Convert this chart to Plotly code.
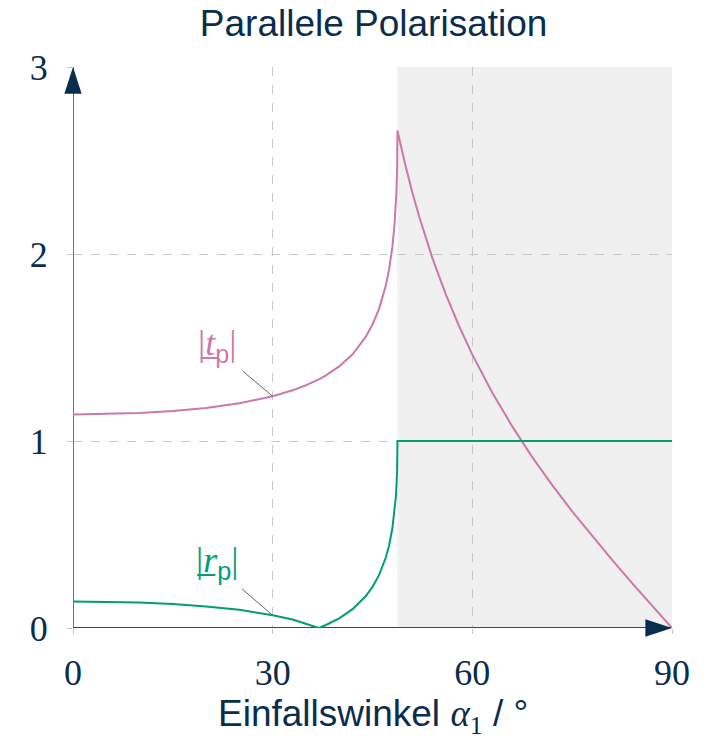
import plotly.graph_objects as go

# ---------------- data ----------------
angles = [0, 5, 10, 15, 20, 25, 30, 33, 35, 36.94, 38, 40, 42, 44, 45, 46, 47,
          47.5, 48, 48.3, 48.5, 48.6, 48.7, 48.75, 49, 49.5, 50, 51, 52, 54, 56,
          58, 60, 63, 66, 69, 72, 75, 78, 81, 84, 87, 90]
t_p = [1.142, 1.144, 1.150, 1.160, 1.177, 1.202, 1.239, 1.271, 1.298, 1.330,
       1.351, 1.399, 1.464, 1.558, 1.623, 1.708, 1.831, 1.919, 2.043, 2.153,
       2.260, 2.338, 2.459, 2.660, 2.620, 2.541, 2.467, 2.328, 2.202, 1.978,
       1.785, 1.615, 1.462, 1.258, 1.078, 0.914, 0.764, 0.624, 0.491, 0.364,
       0.240, 0.120, 0.0]
r_p = [0.142, 0.140, 0.136, 0.128, 0.115, 0.097, 0.068, 0.045, 0.024, 0.0,
       0.016, 0.052, 0.101, 0.171, 0.220, 0.284, 0.377, 0.443, 0.536, 0.619,
       0.699, 0.758, 0.849, 1.0, 1.0, 1.0, 1.0, 1.0, 1.0, 1.0, 1.0, 1.0, 1.0,
       1.0, 1.0, 1.0, 1.0, 1.0, 1.0, 1.0, 1.0, 1.0, 1.0]
critical_angle = 48.75
x_ticks = [0, 30, 60, 90]
y_ticks = [0, 1, 2, 3]
x_range = [0, 90]
y_range = [0, 3]

# ---------------- style ----------------
NAVY = "#0b2d4d"
PINK = "#cc79a7"
GREEN = "#009e73"
GRID = "#c8c8c8"
SERIF = "Liberation Serif"
SANS = "Liberation Sans"

fig = go.Figure()

# shaded region of total internal reflection
fig.add_shape(type="rect", xref="x", yref="y", x0=critical_angle, x1=x_range[1],
              y0=y_range[0], y1=y_range[1], fillcolor="#f0f0f0", line_width=0,
              layer="below")

# axis lines (drawn as traces so they sit under the arrow heads)
fig.add_trace(go.Scatter(x=[x_range[0], x_range[1]], y=[0, 0], mode="lines",
                         line=dict(color="#33485e", width=2),
                         hoverinfo="skip", showlegend=False))
fig.add_trace(go.Scatter(x=[0, 0], y=[y_range[0], y_range[1]], mode="lines",
                         line=dict(color=NAVY, width=1.3),
                         hoverinfo="skip", showlegend=False))

fig.add_trace(go.Scatter(x=angles, y=t_p, mode="lines",
                         line=dict(color=PINK, width=2), hoverinfo="skip",
                         showlegend=False))
fig.add_trace(go.Scatter(x=angles, y=r_p, mode="lines",
                         line=dict(color=GREEN, width=2), hoverinfo="skip",
                         showlegend=False))

# arrow heads at the axis ends
fig.add_trace(go.Scatter(x=[x_range[1]], y=[0], mode="markers",
                         marker=dict(symbol="arrow", angle=90, size=28,
                                     color=NAVY, line=dict(width=0)),
                         hoverinfo="skip", showlegend=False, cliponaxis=False))
fig.add_trace(go.Scatter(x=[0], y=[y_range[1]], mode="markers",
                         marker=dict(symbol="arrow", angle=0, size=28,
                                     color=NAVY, line=dict(width=0)),
                         hoverinfo="skip", showlegend=False, cliponaxis=False))

# leader lines
fig.add_shape(type="line", xref="x", yref="y", x0=25.5, y0=1.374, x1=30,
              y1=t_p[6], line=dict(color="#666666", width=1))
fig.add_shape(type="line", xref="x", yref="y", x0=25.4, y0=0.209, x1=30,
              y1=r_p[6], line=dict(color="#666666", width=1))

# curve labels
fig.add_annotation(x=21.6, y=1.51, xref="x", yref="y", showarrow=False,
                   text=(f"<span style='font-family:{SERIF}'>|<i>t̲</i></span>"
                         f"<sub>p</sub><span style='font-family:{SERIF}'>|</span>"),
                   font=dict(family=SANS, size=36, color=PINK))
fig.add_annotation(x=21.6, y=0.35, xref="x", yref="y", showarrow=False,
                   text=(f"<span style='font-family:{SERIF}'>|<i>r̲</i></span>"
                         f"<sub>p</sub><span style='font-family:{SERIF}'>|</span>"),
                   font=dict(family=SANS, size=36, color=GREEN))

# x axis title
fig.add_annotation(x=0.5, y=-0.158, xref="paper", yref="paper",
                   showarrow=False, yanchor="middle",
                   text=(f"Einfallswinkel <span style='font-family:{SERIF}'><i>α</i></span>"
                         f"<sub><span style='font-family:{SERIF}'>1</span></sub> / °"),
                   font=dict(family=SANS, size=37, color=NAVY))

fig.update_layout(
    width=713, height=740,
    margin=dict(l=73, r=41, t=67, b=112),
    paper_bgcolor="white", plot_bgcolor="white",
    title=dict(text="Parallele Polarisation", x=0.524, xanchor="center",
               y=1 - 23 / 740, yanchor="middle", yref="container",
               font=dict(family=SANS, size=37, color=NAVY)),
    xaxis=dict(range=x_range, tickvals=x_ticks, ticktext=[str(v) for v in x_ticks],
               showgrid=True, gridcolor=GRID, griddash="dash", gridwidth=1,
               zeroline=False, showline=False, ticks="outside", ticklen=5,
               tickcolor=GRID, ticklabelstandoff=8,
               tickfont=dict(family=SERIF, size=36, color=NAVY), fixedrange=True),
    yaxis=dict(range=y_range, tickvals=y_ticks, ticktext=[str(v) for v in y_ticks],
               showgrid=True, gridcolor=GRID, griddash="dash", gridwidth=1,
               zeroline=False, showline=False, ticks="outside", ticklen=5,
               tickcolor=GRID, ticklabelstandoff=12,
               tickfont=dict(family=SERIF, size=36, color=NAVY), fixedrange=True),
)

fig.write_html("out.html")
